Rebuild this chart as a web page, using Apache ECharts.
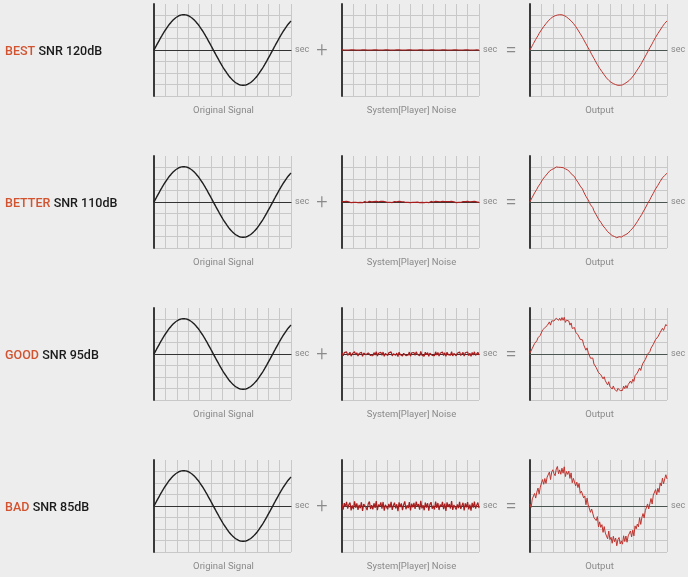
<!DOCTYPE html>
<html>
<head>
<meta charset="utf-8">
<script src="https://cdn.jsdelivr.net/npm/echarts@6/dist/echarts.min.js"></script>
<style>
html,body{margin:0;padding:0;background:#ededed;}
#c{width:688px;height:577px;}
</style>
</head>
<body>
<div id="c"></div>
<script>
const GRADES = ['BEST', 'BETTER', 'GOOD', 'BAD'];
const SNR_LABELS = ['SNR 120dB', 'SNR 110dB', 'SNR 95dB', 'SNR 85dB'];
const CAPTIONS = ['Original Signal', 'System[Player] Noise', 'Output'];

const TIMES = [0,0.1,0.2,0.3,0.4,0.5,0.6,0.7,0.8,0.9,
  1,1.1,1.2,1.3,1.4,1.5,1.6,1.7,1.8,1.9,
  2,2.1,2.2,2.3,2.4,2.5,2.6,2.7,2.8,2.9,
  3,3.1,3.2,3.3,3.4,3.5,3.6,3.7,3.8,3.9,
  4,4.1,4.2,4.3,4.4,4.5,4.6,4.7,4.8,4.9,
  5,5.1,5.2,5.3,5.4,5.5,5.6,5.7,5.8,5.9,
  6,6.1,6.2,6.3,6.4,6.5,6.6,6.7,6.8,6.9,
  7,7.1,7.2,7.3,7.4,7.5,7.6,7.7,7.8,7.9,
  8,8.1,8.2,8.3,8.4,8.5,8.6,8.7,8.8,8.9,
  9,9.1,9.2,9.3,9.4,9.5,9.6,9.7,9.8,9.9,
  10,10.1,10.2,10.3,10.4,10.5,10.6,10.7,10.8,10.9,
  11,11.1,11.2,11.3,11.4,11.5,11.6,11.7,11.8,11.9,
  12];

const SIGNAL = [0,0.19,0.37,0.55,0.73,0.91,1.09,1.26,1.43,1.59,
  1.74,1.89,2.04,2.17,2.30,2.42,2.53,2.63,2.72,2.80,
  2.87,2.93,2.98,3.02,3.05,3.06,3.07,3.06,3.05,3.02,
  2.98,2.93,2.87,2.80,2.72,2.63,2.53,2.42,2.30,2.17,
  2.04,1.89,1.74,1.59,1.43,1.26,1.09,0.91,0.73,0.55,
  0.37,0.19,0,-0.19,-0.37,-0.55,-0.73,-0.91,-1.09,-1.26,
  -1.43,-1.59,-1.74,-1.89,-2.04,-2.17,-2.30,-2.42,-2.53,-2.63,
  -2.72,-2.80,-2.87,-2.93,-2.98,-3.02,-3.05,-3.06,-3.07,-3.06,
  -3.05,-3.02,-2.98,-2.93,-2.87,-2.80,-2.72,-2.63,-2.53,-2.42,
  -2.30,-2.17,-2.04,-1.89,-1.74,-1.59,-1.43,-1.26,-1.09,-0.91,
  -0.73,-0.55,-0.37,-0.19,0,0.19,0.37,0.55,0.73,0.91,
  1.09,1.26,1.43,1.59,1.74,1.89,2.04,2.17,2.30,2.42,
  2.53];

const NOISE_BEST = [0.01,-0.01,0,0.01,-0.01,0.01,0,-0.01,0.01,-0.01,
  0.01,-0.01,0,0.01,-0.01,0.01,0,-0.01,0.01,-0.01,
  0.01,-0.01,0,0.01,-0.01,0.01,0,-0.01,0.01,-0.01,
  0.01,-0.01,0,0.01,-0.01,0.01,0,-0.01,0.01,-0.01,
  0.01,-0.01,0,0.01,-0.01,0.01,0,-0.01,0.01,-0.01,
  0.01,-0.01,0,0.01,-0.01,0.01,0,-0.01,0.01,-0.01,
  0.01,-0.01,0,0.01,-0.01,0.01,0,-0.01,0.01,-0.01,
  0.01,-0.01,0,0.01,-0.01,0.01,0,-0.01,0.01,-0.01,
  0.01,-0.01,0,0.01,-0.01,0.01,0,-0.01,0.01,-0.01,
  0.01,-0.01,0,0.01,-0.01,0.01,0,-0.01,0.01,-0.01,
  0.01,-0.01,0,0.01,-0.01,0.01,0,-0.01,0.01,-0.01,
  0.01,-0.01,0,0.01,-0.01,0.01,0,-0.01,0.01,-0.01,
  0];
const NOISE_BETTER = [0.03,-0.05,0.04,-0.01,0.06,-0.04,0.02,0.05,-0.06,0.01,
  -0.04,0.06,-0.02,0.03,-0.05,0.02,-0.03,0.05,-0.06,0.02,
  0.04,-0.02,-0.05,0.03,0.06,-0.04,0.01,-0.05,0.04,-0.03,
  0.06,-0.05,0.02,-0.01,0.05,-0.04,0.05,-0.06,0.02,0.04,
  -0.04,0.03,-0.02,0.05,-0.05,0.01,0.04,-0.03,0.02,-0.06,
  0.05,-0.02,0.03,-0.05,0.02,0.06,-0.04,0.01,-0.03,0.05,
  -0.06,0.03,-0.02,0.04,-0.04,0.06,-0.01,0.03,-0.05,0.06,
  -0.03,0.01,-0.05,0.04,-0.02,0.04,-0.06,0.02,0.05,-0.04,
  0.00,-0.04,0.06,-0.02,0.04,-0.05,0.02,-0.01,0.05,-0.04,
  0.03,-0.06,0.04,-0.02,0.03,-0.03,0.06,-0.05,0.02,0.04,
  -0.05,0.02,-0.03,0.05,-0.04,0.01,0.04,-0.06,0.03,-0.02,
  0.05,-0.04,0.02,-0.06,0.04,-0.02,0.06,-0.04,0.01,0.05,
  -0.03];
const NOISE_GOOD = [0.09,-0.16,0.12,-0.04,0.18,-0.11,0.06,0.15,-0.19,0.03,
  -0.13,0.20,-0.08,0.11,-0.17,0.05,-0.10,0.16,-0.21,0.08,
  0.14,-0.06,-0.18,0.10,0.19,-0.13,0.04,-0.15,0.12,-0.09,
  0.21,-0.18,0.07,-0.03,0.15,-0.12,0.17,-0.20,0.05,0.13,
  -0.14,0.10,-0.07,0.18,-0.16,0.02,0.14,-0.11,0.08,-0.22,
  0.16,-0.05,0.11,-0.18,0.06,0.20,-0.14,0.03,-0.09,0.17,
  -0.19,0.10,-0.06,0.13,-0.12,0.19,-0.03,0.09,-0.16,0.22,
  -0.10,0.04,-0.18,0.15,-0.07,0.12,-0.20,0.07,0.16,-0.12,
  0.01,-0.15,0.19,-0.08,0.13,-0.17,0.06,-0.04,0.18,-0.13,
  0.10,-0.21,0.15,-0.05,0.09,-0.11,0.21,-0.17,0.05,0.12,
  -0.15,0.07,-0.10,0.18,-0.13,0.02,0.14,-0.19,0.11,-0.06,
  0.17,-0.14,0.06,-0.20,0.13,-0.08,0.19,-0.12,0.03,0.15,
  -0.09];
const NOISE_BAD = [0.18,-0.31,0.25,-0.08,0.36,-0.22,0.12,0.30,-0.38,0.05,
  -0.27,0.41,-0.15,0.22,-0.34,0.09,-0.19,0.33,-0.42,0.16,
  0.28,-0.11,-0.35,0.20,0.39,-0.26,0.07,-0.30,0.24,-0.17,
  0.43,-0.37,0.13,-0.05,0.31,-0.23,0.35,-0.40,0.10,0.26,
  -0.29,0.19,-0.14,0.37,-0.33,0.04,0.29,-0.21,0.15,-0.44,
  0.32,-0.09,0.23,-0.36,0.11,0.40,-0.28,0.06,-0.18,0.34,
  -0.39,0.21,-0.12,0.27,-0.25,0.38,-0.06,0.17,-0.32,0.45,
  -0.20,0.08,-0.37,0.30,-0.13,0.24,-0.41,0.14,0.33,-0.24,
  0.02,-0.30,0.39,-0.16,0.26,-0.35,0.12,-0.07,0.36,-0.27,
  0.20,-0.43,0.31,-0.10,0.17,-0.22,0.42,-0.34,0.09,0.25,
  -0.31,0.14,-0.19,0.37,-0.26,0.03,0.28,-0.38,0.22,-0.12,
  0.34,-0.29,0.11,-0.41,0.27,-0.15,0.38,-0.23,0.06,0.30,
  -0.18];
const NOISES = [NOISE_BEST, NOISE_BETTER, NOISE_GOOD, NOISE_BAD];

const FONT = 'Roboto, "DejaVu Sans", sans-serif';
const ROW_TOPS = [4, 156, 308, 460];
const COL_LEFTS = [154, 342, 530];
const PW = 137, PH = 92;

const grids = [], xAxes = [], yAxes = [], series = [], graphics = [];
let gi = 0;
for (let r = 0; r < 4; r++) {
  const outputData = SIGNAL.map((v, i) => +(v + NOISES[r][i]).toFixed(3));
  const panelData = [SIGNAL, NOISES[r], outputData];
  for (let c = 0; c < 3; c++) {
    grids.push({left: COL_LEFTS[c], top: ROW_TOPS[r], width: PW, height: PH});
    xAxes.push({
      gridIndex: gi, type: 'category', data: TIMES, boundaryGap: false,
      axisLine: {show: true, onZero: true, lineStyle: {color: c === 2 ? '#4c5650' : '#333', width: 1.2}},
      axisTick: {show: false}, axisLabel: {show: false},
      splitLine: {show: true, interval: 9, lineStyle: {color: '#c8c8c8', width: 1}},
      name: 'sec', nameLocation: 'end', nameGap: 4,
      nameTextStyle: {fontSize: 9, color: '#888', fontFamily: FONT, verticalAlign: 'middle'}
    });
    yAxes.push({
      gridIndex: gi, type: 'value', min: -4, max: 4, interval: 1,
      axisLine: {show: true, onZero: false, lineStyle: {color: '#3a3a3a', width: 2}},
      axisTick: {show: false}, axisLabel: {show: false},
      splitLine: {show: true, showMaxLine: false, lineStyle: {color: '#c8c8c8', width: 1}}
    });
    series.push({
      type: 'line', xAxisIndex: gi, yAxisIndex: gi, data: panelData[c],
      showSymbol: false, symbol: 'none', smooth: c === 0,
      lineStyle: {color: c === 0 ? '#1e1e1e' : (c === 1 ? '#a81e1e' : '#bf3530'),
        width: c === 0 ? 1.4 : (c === 1 ? 1.2 : 1)},
      z: 3, silent: true
    });
    graphics.push({
      type: 'text', x: COL_LEFTS[c] + PW / 2 + 1, y: ROW_TOPS[r] + PH + 15,
      style: {text: CAPTIONS[c], fill: '#8a8a8a', font: '9.5px ' + FONT,
        textAlign: 'center', align: 'center', textVerticalAlign: 'middle', verticalAlign: 'middle'}
    });
    gi++;
  }
  const zeroY = ROW_TOPS[r] + PH / 2;
  graphics.push({
    type: 'text', x: 5, y: zeroY + 2,
    style: {
      text: '{a|' + GRADES[r] + '} {b|' + SNR_LABELS[r] + '}',
      textVerticalAlign: 'middle', verticalAlign: 'middle',
      rich: {
        a: {fill: '#d2532f', font: '500 12.5px ' + FONT},
        b: {fill: '#1a1a1a', font: '500 12.5px ' + FONT}
      }
    }
  });
  graphics.push({
    type: 'text', x: 322, y: zeroY + 1,
    style: {text: '+', fill: '#8a8a8a', font: '300 20px ' + FONT,
      textAlign: 'center', align: 'center', textVerticalAlign: 'middle', verticalAlign: 'middle'}
  });
  graphics.push({
    type: 'text', x: 511, y: zeroY + 1,
    style: {text: '=', fill: '#8a8a8a', font: '300 20px ' + FONT,
      textAlign: 'center', align: 'center', textVerticalAlign: 'middle', verticalAlign: 'middle'}
  });
}

const chart = echarts.init(document.getElementById('c'), null, {renderer: 'canvas'});
chart.setOption({
  backgroundColor: '#ededed',
  animation: false,
  grid: grids, xAxis: xAxes, yAxis: yAxes, series: series,
  graphic: graphics
});
</script>
</body>
</html>
